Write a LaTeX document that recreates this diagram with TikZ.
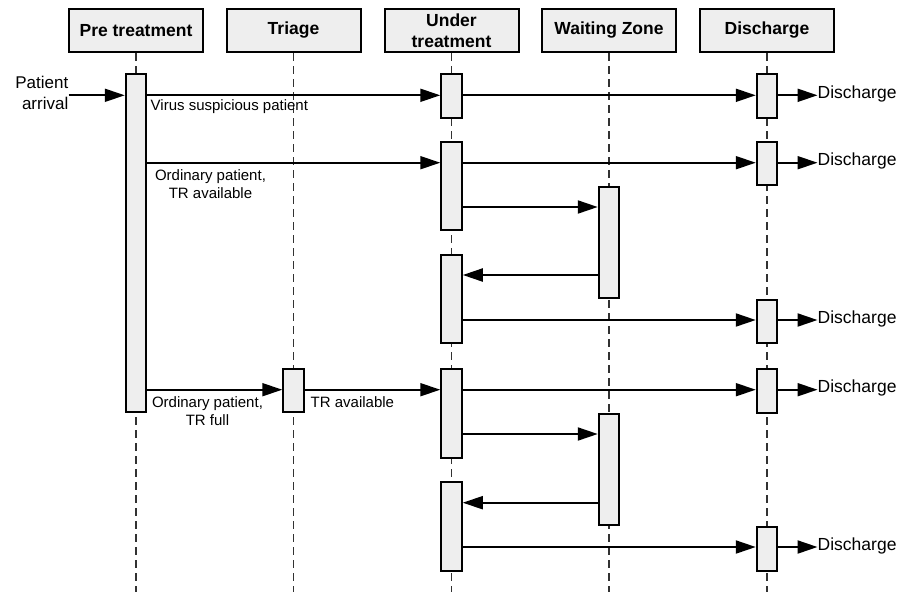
\documentclass[tikz,border=0pt]{standalone}
\usepackage{fontspec}
\setmainfont{Liberation Sans}
\usetikzlibrary{arrows.meta}

\definecolor{boxgray}{RGB}{238, 238, 238}
\definecolor{lifegray}{RGB}{50, 50, 50}

\begin{document}
\begin{tikzpicture}[x=1pt, y=-1pt,
		head/.style={draw, line width=2pt, fill=boxgray, minimum width=134pt, minimum height=43pt,
				inner sep=0pt, align=center, font=\fontsize{17.5}{21}\selectfont\bfseries},
		act/.style={draw, line width=2pt, fill=boxgray, minimum width=20.5pt, inner sep=0pt, anchor=north},
		life/.style={lifegray, line width=1.2pt, dash pattern=on 8pt off 5pt},
		msg/.style={line width=2pt, -{Triangle[length=20pt, width=13pt]}},
		note/.style={inner sep=0pt, align=center, font=\fontsize{15}{18}\selectfont},
		outlbl/.style={inner sep=0pt, anchor=west, font=\fontsize{17.5}{20}\selectfont}]

	\useasboundingbox (0,0) rectangle (909,592);

	% --- Header boxes and lifelines ---
	\foreach \n/\x/\txt in {hpre/136/{Pre treatment}, htri/293.5/{Triage}, hund/451.5/{Under\\treatment},
			hwz/609/{Waiting Zone}, hdis/767/{Discharge}} {
			\node[head] (\n) at (\x,30.5) {\txt};
			\draw[life] (\n.south) -- (\n.south |- 0,592);
		}

	% --- Activation bars (name/x/top/bottom) ---
	\foreach \n/\x/\t/\b in {pre/136/72.3/412.3, ut1/451.5/72.3/117.5, dc1/767/72.3/117.5,
			ut2/451.5/140/230, dc2/767/140/185, wz1/609/185/297.7,
			ut3/451.5/252.7/342.7, dc3/767/297.7/342.7,
			tr1/293.5/367.3/412.3, ut4/451.5/367.3/457.5, dc4/767/367.3/412.5,
			wz2/609/412.3/525.3, ut5/451.5/480/570.5, dc5/767/525.3/570.5} {
			\node[act, minimum height={\b-\t-2}] (\n) at (\x,\t+1) {};
		}

	% --- Patient arrival ---
	\node[inner sep=0pt, anchor=east, align=right, font=\fontsize{17}{21}\selectfont] (arrival)
		at (68.5,92.5) {Patient\\arrival};
	\draw[msg] (arrival.east |- 0,95.3) -- (pre.west |- 0,95.3);

	% --- Messages to the right ---
	\foreach \a/\b/\y in {pre/ut1/95.3, ut1/dc1/95.3, pre/ut2/162.7, ut2/dc2/162.7,
			ut2/wz1/207, ut3/dc3/320, pre/tr1/389.7, tr1/ut4/389.7, ut4/dc4/389.7,
			ut4/wz2/434, ut5/dc5/547} {
			\draw[msg] (\a.east |- 0,\y) -- (\b.west |- 0,\y);
		}

	% --- Messages back from the waiting zone ---
	\draw[msg] (wz1.west |- 0,275) -- (ut3.east |- 0,275);
	\draw[msg] (wz2.west |- 0,502.7) -- (ut5.east |- 0,502.7);

	% --- Discharge exits ---
	\foreach \k/\y in {1/95.3, 2/162.7, 3/320, 4/389.7, 5/547} {
			\node[outlbl] (out\k) at (817.5,\y-1.5) {Discharge};
			\draw[msg] (dc\k.east |- 0,\y) -- (out\k.west |- 0,\y);
		}

	% --- Message labels ---
	\node[note, anchor=west] (virus) at (150.5,107) {Virus suspicious patient};
	\node[note] (ordavail) at (210.5,184) {Ordinary patient,\\TR available};
	\node[note] (ordfull) at (207.5,411.3) {Ordinary patient,\\TR full};
	\node[note, anchor=west] (travail) at (310.5,402.3) {TR available};

\end{tikzpicture}
\end{document}
